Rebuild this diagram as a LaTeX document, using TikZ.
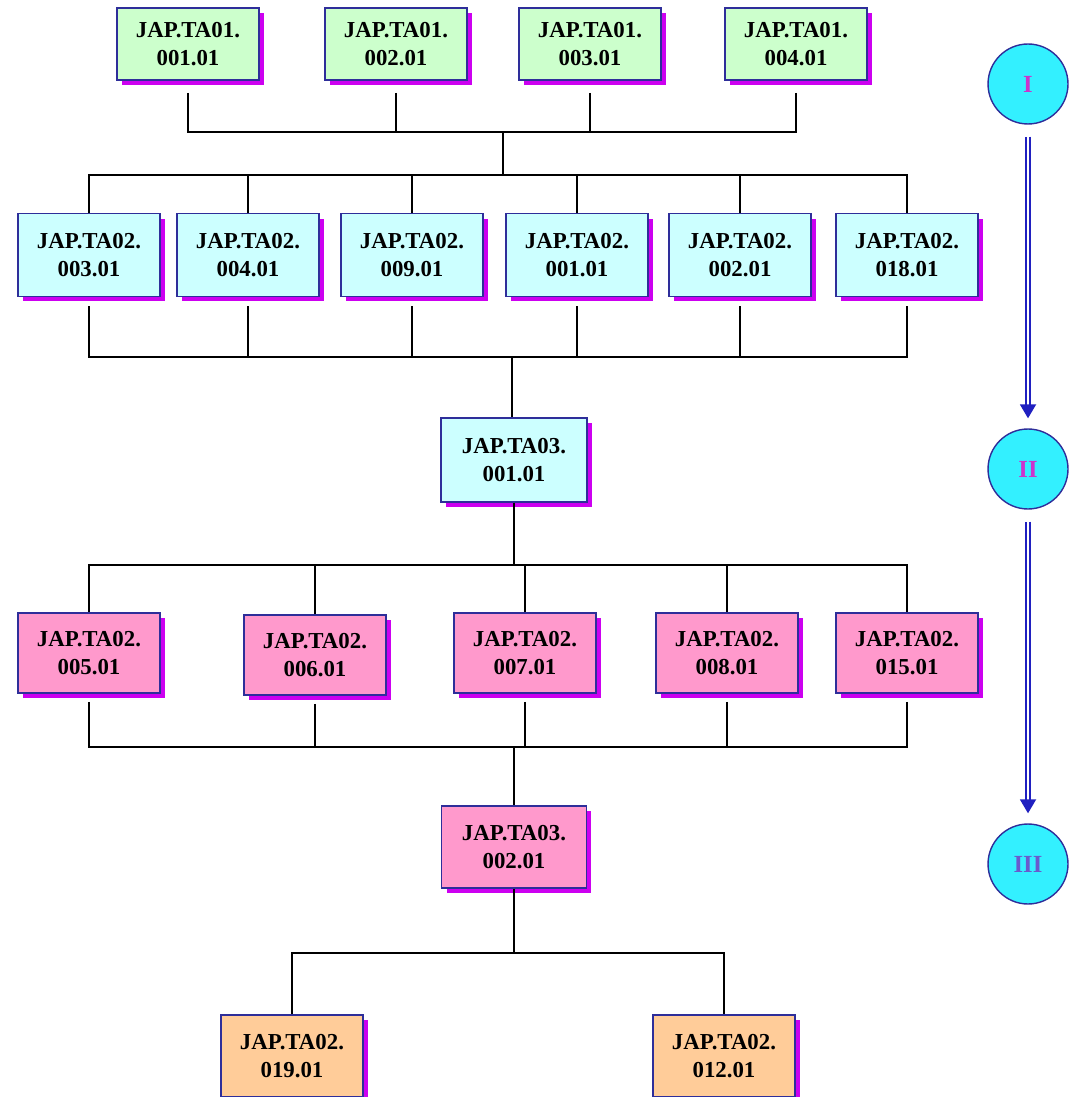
\documentclass[tikz,border=0pt]{standalone}
\usepackage{fontspec}
\setmainfont{Liberation Serif}
\usepackage{tikz}
\usetikzlibrary{positioning,shadows,arrows.meta}
\newcommand{\boxwidth}{2.84cm}
\definecolor{boxgreen}{HTML}{CCFFCC}
\definecolor{boxcyan}{HTML}{CCFFFF}
\definecolor{boxpink}{HTML}{FF99CC}
\definecolor{boxorange}{HTML}{FFCC99}
\definecolor{boxborder}{HTML}{2E2E9A}
\definecolor{shadowmag}{HTML}{CC00F0}
\definecolor{stagefill}{HTML}{33F0FF}
\definecolor{stagearrowblue}{HTML}{2020C0}
\definecolor{stagemag}{HTML}{CC33CC}
\definecolor{stageviolet}{HTML}{6A5ACD}
\tikzstyle{code_box}=[rectangle, draw=boxborder, line width=0.9pt, minimum width=\boxwidth, minimum height=1.6cm, align=center, font=\fontsize{13}{16}\selectfont\bfseries, drop shadow={shadow xshift=0.1cm, shadow yshift=-0.1cm, fill=shadowmag, opacity=1}]
\tikzstyle{code_box_green}=[code_box, fill=boxgreen, minimum height=1.44cm]
\tikzstyle{code_box_cyan}=[code_box, fill=boxcyan, minimum height=1.66cm]
\tikzstyle{code_box_pink}=[code_box, fill=boxpink]
\tikzstyle{code_box_orange}=[code_box, fill=boxorange, minimum height=1.64cm]
\tikzstyle{link}=[black, line width=1pt]
\tikzstyle{stage_circle}=[circle, draw=boxborder, line width=0.8pt, fill=stagefill, minimum size=1.6cm, font=\fontsize{14}{14}\selectfont\bfseries]
\tikzstyle{stage_arrow}=[draw=stagearrowblue, line width=1.1pt, double=white, double distance=1.5pt, -{Triangle[length=0.28cm, width=0.32cm]}, shorten <=0.24cm, shorten >=0.2cm]

\begin{document}
\begin{tikzpicture}[x=0.02cm,y=-0.02cm]

            \useasboundingbox (0,0) rectangle (1068,1097);

            % Level I
            \node[code_box_green] (ta01a) at (188,44) {JAP.TA01.\\001.01};
            \node[code_box_green] (ta01b) at (396,44) {JAP.TA01.\\002.01};
            \node[code_box_green] (ta01c) at (590,44) {JAP.TA01.\\003.01};
            \node[code_box_green] (ta01d) at (796,44) {JAP.TA01.\\004.01};

            \coordinate (bus_top) at (503,132);
            \coordinate (bus_two) at (503,175);
            \foreach \n in {ta01a,ta01b,ta01c,ta01d}
                \draw[link,shorten <=0.24cm] (\n) |- (bus_top);
            \draw[link] (bus_top) -- (bus_two);

            % Level II
            \node[code_box_cyan] (ta02c) at (89,255) {JAP.TA02.\\003.01};
            \node[code_box_cyan] (ta02d) at (248,255) {JAP.TA02.\\004.01};
            \node[code_box_cyan] (ta02i) at (412,255) {JAP.TA02.\\009.01};
            \node[code_box_cyan] (ta02a) at (577,255) {JAP.TA02.\\001.01};
            \node[code_box_cyan] (ta02b) at (740,255) {JAP.TA02.\\002.01};
            \node[code_box_cyan] (ta02r) at (907,255) {JAP.TA02.\\018.01};

            \coordinate (bus_three) at (512,357);
            \foreach \n in {ta02c,ta02d,ta02i,ta02a,ta02b,ta02r}{
                \draw[link] (\n) |- (bus_two);
                \draw[link,shorten <=0.18cm] (\n) |- (bus_three);
            }

            \node[code_box_cyan,minimum width=2.92cm,minimum height=1.68cm] (ta03a) at (514,460) {JAP.TA03.\\001.01};
            \draw[link] (bus_three) -- (bus_three |- ta03a.north);

            % Level III
            \coordinate (bus_four) at (514,565);
            \coordinate (bus_five) at (514,747);
            \draw[link] (ta03a) -- (bus_four);

            \node[code_box_pink] (ta02e) at (89,653) {JAP.TA02.\\005.01};
            \node[code_box_pink] (ta02f) at (315,655) {JAP.TA02.\\006.01};
            \node[code_box_pink] (ta02g) at (525,653) {JAP.TA02.\\007.01};
            \node[code_box_pink] (ta02h) at (727,653) {JAP.TA02.\\008.01};
            \node[code_box_pink] (ta02o) at (907,653) {JAP.TA02.\\015.01};
            \foreach \n in {ta02e,ta02f,ta02g,ta02h,ta02o}{
                \draw[link] (\n) |- (bus_four);
                \draw[link,shorten <=0.16cm] (\n) |- (bus_five);
            }

            \node[code_box_pink,minimum width=2.9cm,minimum height=1.64cm] (ta03b) at (514,847) {JAP.TA03.\\002.01};
            \draw[link] (bus_five) -- (ta03b);

            % Last level
            \coordinate (bus_six) at (514,953);
            \draw[link] (ta03b) -- (bus_six);
            \node[code_box_orange] (ta02s) at (292,1056) {JAP.TA02.\\019.01};
            \node[code_box_orange] (ta02l) at (724,1056) {JAP.TA02.\\012.01};
            \draw[link] (ta02s) |- (bus_six);
            \draw[link] (ta02l) |- (bus_six);

            % Stages
            \node[stage_circle,text=stagemag] (stage1) at (1028,84) {I};
            \node[stage_circle,text=stagemag] (stage2) at (1028,469) {II};
            \node[stage_circle,text=stageviolet] (stage3) at (1028,864) {III};
            \draw[stage_arrow] (stage1) -- (stage2);
            \draw[stage_arrow] (stage2) -- (stage3);

\end{tikzpicture}
\end{document}
